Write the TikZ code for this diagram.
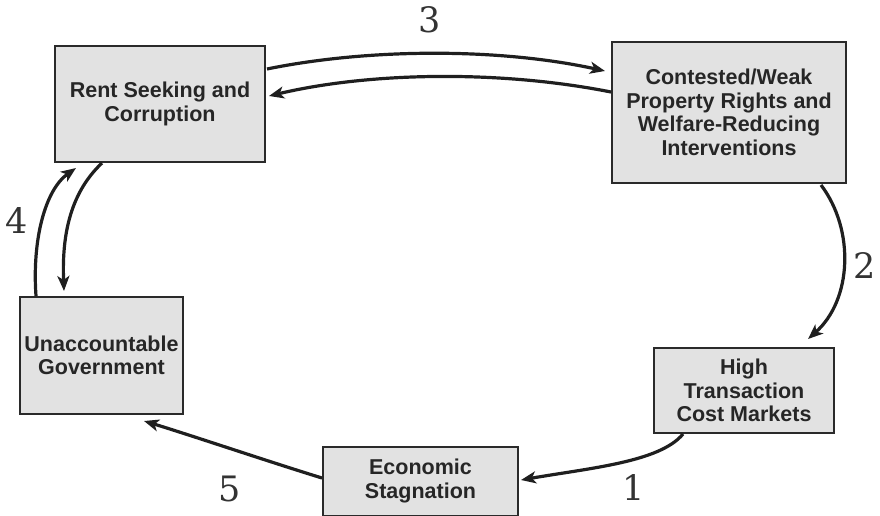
\documentclass[tikz,border=0pt]{standalone}
\usepackage{fontspec}
\newfontfamily\boxfont{Liberation Sans}
\newfontfamily\numfont{DejaVu Serif}
\usetikzlibrary{arrows.meta,calc}
\definecolor{boxfill}{HTML}{E2E2E2}
\definecolor{boxline}{HTML}{2A2A2A}
\begin{document}
\begin{tikzpicture}[x=1pt,y=-1pt,
  box/.style={draw=boxline,line width=2pt,fill=boxfill,align=center,inner sep=0pt,
    font=\boxfont\bfseries\fontsize{21.5}{23.5}\selectfont,text=black!85},
  conn/.style={line width=3.2pt,black!88,-{Stealth[length=15pt,width=12pt,inset=4pt]}},
  num/.style={font=\numfont\fontsize{35}{35}\selectfont,text=black!80}]
\useasboundingbox (0,0) rectangle (880,516);
\node[box,minimum width=210pt,minimum height=116pt] (rent) at (160,104) {Rent Seeking and\\Corruption};
\node[box,minimum width=234pt,minimum height=141pt] (cont) at (729,112.5) {Contested/Weak\\Property Rights and\\Welfare-Reducing\\Interventions};
\node[box,minimum width=163pt,minimum height=117pt] (unacc) at (101.5,355.5) {Unaccountable\\Government};
\node[box,minimum width=180pt,minimum height=85pt] (high) at (744,390.5) {High\\Transaction\\Cost Markets};
\node[box,minimum width=195pt,minimum height=69pt] (econ) at (420.5,481) {Economic\\Stagnation};
% 3
\coordinate (r3a) at ($(rent.north east)+(1,24)$);
\coordinate (c3a) at ($(cont.north west)+(-6,30)$);
\coordinate (c3b) at ($(cont.north west)+(0,51)$);
\coordinate (r3b) at ($(rent.north east)+(3,51)$);
\draw[conn] (r3a) .. controls (370,48) and (500,48) .. (c3a);
\draw[conn] (c3b) .. controls (500,70) and (370,72) .. (r3b);
% 2
\coordinate (c2) at ($(cont.south east)+(-26,1)$);
\coordinate (h2) at ($(high.north)+(64,-8)$);
\draw[conn] (c2) .. controls (855,230) and (852,300) .. (h2);
% 1
\coordinate (h1) at ($(high.south west)+(30,0)$);
\coordinate (e1) at ($(econ.east)+(2,-1)$);
\draw[conn] (h1) .. controls (660,462) and (590,468) .. (e1);
% 5
\coordinate (e5) at ($(econ.west)+(0,-3)$);
\coordinate (u5) at ($(unacc.south east)+(-40,6)$);
\draw[conn] (e5) .. controls (270,462) and (190,435) .. (u5);
% 4
\coordinate (u4a) at ($(unacc.north west)+(17,0)$);
\coordinate (r4a) at ($(rent.south west)+(22,5)$);
\coordinate (r4b) at ($(rent.south west)+(48,0)$);
\coordinate (u4b) at ($(unacc.north west)+(45,-5)$);
\draw[conn] (u4a) .. controls (32,240) and (45,190) .. (r4a);
\draw[conn] (r4b) .. controls (68,195) and (62,240) .. (u4b);
% numbers
\node[num] (n3) at (430,20) {3};
\node[num] (n2) at (865,266) {2};
\node[num] (n4) at (17,221) {4};
\node[num] (n5) at (230,489) {5};
\node[num] (n1) at (634,488) {1};
\end{tikzpicture}
\end{document}
